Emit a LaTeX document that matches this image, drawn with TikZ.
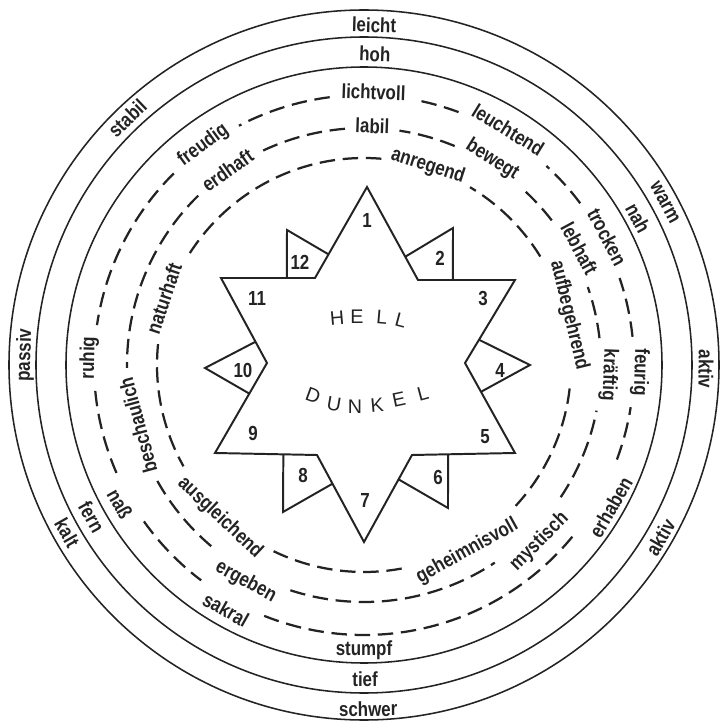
\documentclass[tikz,border=0pt]{standalone}
\usepackage{fontspec}
\newfontfamily\lblfont[FakeStretch=0.83]{Liberation Sans}
\newfontfamily\handfont{Liberation Sans}
\usetikzlibrary{calc}
\definecolor{ink}{RGB}{35,35,35}
\tikzset{
  ring/.style={draw=ink, line width=1.1pt},
  dashring/.style={draw=ink, line width=1.6pt, dash pattern=on 11pt off 5.5pt},
  starline/.style={draw=ink, line width=1.4pt, line join=miter},
  lbl/.style={text=ink, inner sep=0pt, font=\lblfont\bfseries\fontsize{14.5}{16}\selectfont},
  hand/.style={text=ink, inner sep=0pt, font=\handfont\fontsize{14}{16}\selectfont}
}
\begin{document}
\begin{tikzpicture}[x=0.025cm, y=0.025cm]
\useasboundingbox (-364,-357) rectangle (355,365);
\coordinate (c) at (0,0);

% solid rings
\draw[ring] (c) circle[radius=355];
\draw[ring] (c) circle[radius=328];
\draw[ring] (c) circle[radius=298];

% outer band
\node[lbl, rotate=-1.7] (leicht) at (88.3:340) {leicht};
\node[lbl, rotate=-61.6] (warm) at (28.4:342) {warm};
\node[lbl, rotate=-90.7] (aktivr) at (-0.7:342) {aktiv};
\node[lbl, rotate=59.8] (aktivu) at (-30.2:343) {aktiv};
\node[lbl, rotate=0.7] (schwer) at (-89.3:344) {schwer};
\node[lbl, rotate=-60.5] (kalt) at (-150.5:341) {kalt};
\node[lbl, rotate=88.3] (passiv) at (178.3:339) {passiv};
\node[lbl, rotate=43.8] (stabil) at (133.8:342) {stabil};

% second band
\node[lbl, rotate=-2] (hoh) at (88:311) {hoh};
\node[lbl, rotate=-61.8] (nah) at (28.2:311) {nah};
\node[lbl] (tief) at (-89.8:314) {tief};
\node[lbl, rotate=-60.8] (fern) at (-150.8:312) {fern};

% dashed ring A
\draw[dashring] (97.3:270) arc[start angle=97.3, end angle=117.6, radius=270];
\draw[dashring] (134.8:270) arc[start angle=134.8, end angle=171.5, radius=270];
\draw[dashring] (185.5:270) arc[start angle=185.5, end angle=204, radius=270];
\draw[dashring] (215.4:270) arc[start angle=215.4, end angle=232.9, radius=270];
\draw[dashring] (248.3:270) arc[start angle=248.3, end angle=320.5, radius=270];
\draw[dashring] (339.5:270) arc[start angle=339.5, end angle=351, radius=270];
\draw[dashring] (6:270) arc[start angle=6, end angle=18.8, radius=270];
\draw[dashring] (36.8:270) arc[start angle=36.8, end angle=47.5, radius=270];
\draw[dashring] (69.5:270) arc[start angle=69.5, end angle=78.7, radius=270];
\node[lbl, rotate=-2] (lichtvoll) at (88:273) {lichtvoll};
\node[lbl, rotate=-31.5] (leuchtend) at (58.5:276) {leuchtend};
\node[lbl, rotate=-62.2] (trocken) at (27.8:275) {trocken};
\node[lbl, rotate=-91.5] (feurig) at (-1.5:276) {feurig};
\node[lbl, rotate=60] (erhaben) at (-30:285) {erhaben};
\node[lbl] (stumpf) at (-90:285) {stumpf};
\node[lbl, rotate=-29.4] (sakral) at (-119.4:281) {sakral};
\node[lbl, rotate=-60.3] (nass) at (-150.3:281) {naß};
\node[lbl, rotate=88.5] (ruhig) at (178.5:275) {ruhig};
\node[lbl, rotate=36.2] (freudig) at (126.2:272) {freudig};

% dashed ring B
\draw[dashring] (94.6:237) arc[start angle=94.6, end angle=115.6, radius=237];
\draw[dashring] (134.4:237) arc[start angle=134.4, end angle=180.7, radius=237];
\draw[dashring] (209.3:237) arc[start angle=209.3, end angle=230.9, radius=237];
\draw[dashring] (251.9:237) arc[start angle=251.9, end angle=303.5, radius=237];
\draw[dashring] (326.1:237) arc[start angle=326.1, end angle=348.9, radius=237];
\draw[dashring] (6.5:237) arc[start angle=6.5, end angle=19.2, radius=237];
\draw[dashring] (37.6:237) arc[start angle=37.6, end angle=48.5, radius=237];
\draw[dashring] (67.5:237) arc[start angle=67.5, end angle=81.4, radius=237];
\node[lbl, rotate=-2] (labil) at (88:239) {labil};
\node[lbl, rotate=-32] (bewegt) at (58:242) {bewegt};
\node[lbl, rotate=-61.6] (lebhaft) at (28.4:245) {lebhaft};
\node[lbl, rotate=-92.3] (kraeftig) at (-2.3:245) {kräftig};
\node[lbl, rotate=44.8] (mystisch) at (-45.2:249) {mystisch};
\node[lbl, rotate=-28.6] (ergeben) at (-118.6:247) {ergeben};
\node[lbl, rotate=105] (beschaulich) at (195:234) {beschaulich};
\node[lbl, rotate=35] (erdhaft) at (125:238) {erdhaft};

% dashed ring C
\draw[dashring] (85.2:207) arc[start angle=85.2, end angle=149, radius=207];
\draw[dashring] (174.2:207) arc[start angle=174.2, end angle=209.3, radius=207];
\draw[dashring] (244.1:207) arc[start angle=244.1, end angle=280.9, radius=207];
\draw[dashring] (317.1:207) arc[start angle=317.1, end angle=355.6, radius=207];
\draw[dashring] (31.6:207) arc[start angle=31.6, end angle=59.2, radius=207];
\node[lbl, rotate=-17.8] (anregend) at (72.2:209) {anregend};
\node[lbl, rotate=-76.4] (aufbegehrend) at (13.6:211) {aufbegehrend};
\node[lbl, rotate=29] (geheimnisvoll) at (-61:213) {geheimnisvoll};
\node[lbl, rotate=-43.3] (ausgleichend) at (-133.3:210) {ausgleichend};
\node[lbl, rotate=71.6] (naturhaft) at (161.6:211) {naturhaft};

% star
\coordinate (t1) at (3,178);
\coordinate (v2) at (54,85);
\coordinate (t3) at (151,85);
\coordinate (v4) at (101,2);
\coordinate (t5) at (151,-88);
\coordinate (v6) at (48,-90);
\coordinate (t7) at (0,-177);
\coordinate (v8) at (-47,-90);
\coordinate (t9) at (-149,-88);
\coordinate (v10) at (-97,2);
\coordinate (t11) at (-143,87);
\coordinate (v12) at (-49,87);
\draw[starline] (t1) -- (v2) -- (t3) -- (v4) -- (t5) -- (v6) -- (t7) -- (v8)
  -- (t9) -- (v10) -- (t11) -- (v12) -- cycle;

% flags
\coordinate (f2) at (89,137);
\coordinate (f4) at (166,0);
\coordinate (f6) at (84,-143);
\coordinate (f8) at (-81,-147);
\coordinate (f10) at (-159,-3);
\coordinate (f12) at (-77,135);
\draw[starline] ($(v2)!0.25!(t1)$) -- (f2) -- ($(v2)!0.36!(t3)$);
\draw[starline] ($(v4)!0.28!(t3)$) -- (f4) -- ($(v4)!0.32!(t5)$);
\draw[starline] ($(v6)!0.35!(t5)$) -- (f6) -- ($(v6)!0.28!(t7)$);
\draw[starline] ($(v8)!0.33!(t9)$) -- (f8) -- ($(v8)!0.33!(t7)$);
\draw[starline] ($(v10)!0.25!(t11)$) -- (f10) -- ($(v10)!0.34!(t9)$);
\draw[starline] ($(v12)!0.26!(t1)$) -- (f12) -- ($(v12)!0.30!(t11)$);

% numbers
\node[lbl] (n1) at (3,145) {1};
\node[lbl] (n2) at (76,107) {2};
\node[lbl] (n3) at (119,67) {3};
\node[lbl] (n4) at (136,-5) {4};
\node[lbl] (n5) at (121,-72) {5};
\node[lbl] (n6) at (74,-112) {6};
\node[lbl] (n7) at (1,-135) {7};
\node[lbl] (n8) at (-61,-110) {8};
\node[lbl] (n9) at (-111,-68) {9};
\node[lbl] (n10) at (-121,-5) {10};
\node[lbl] (n11) at (-107,67) {11};
\node[lbl] (n12) at (-64,103) {12};

% HELL / DUNKEL
\node[hand, rotate=5] (hellh) at (-27,47) {H};
\node[hand] (helle) at (-7,48) {E};
\node[hand, rotate=-5] (helll) at (18,48) {L};
\node[hand, rotate=-15] (hellll) at (37,45) {L};
\node[hand, rotate=-20] (dunkeld) at (-51,-31) {D};
\node[hand, rotate=-10] (dunkelu) at (-30,-39) {U};
\node[hand] (dunkeln) at (-9,-42) {N};
\node[hand, rotate=5] (dunkelk) at (13,-40) {K};
\node[hand, rotate=12] (dunkele) at (35,-35) {E};
\node[hand, rotate=15] (dunkell) at (59,-29) {L};

\end{tikzpicture}
\end{document}
